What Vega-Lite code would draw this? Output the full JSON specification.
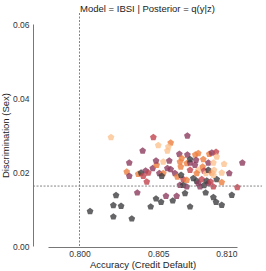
{
  "$schema": "https://vega.github.io/schema/vega-lite/v6.json",
  "width": 189,
  "height": 222,
  "autosize": {"type": "none"},
  "padding": {"left": 48, "top": 24, "right": 29, "bottom": 25},
  "config": {
    "view": {"stroke": null},
    "font": "Liberation Sans",
    "axis": {
      "grid": false,
      "ticks": false,
      "domainColor": "#777777",
      "domainWidth": 1,
      "labelFont": "Liberation Sans",
      "labelFontSize": 8.5,
      "labelColor": "#333333",
      "titleFont": "Liberation Sans",
      "titleFontSize": 9.5,
      "titleFontWeight": "normal",
      "titleColor": "#222222"
    }
  },
  "title": {
    "text": "Model = IBSI | Posterior = q(y|z)",
    "font": "Liberation Sans",
    "fontSize": 9.5,
    "fontWeight": "normal",
    "color": "#222222",
    "offset": 0,
    "dx": 5,
    "dy": 2
  },
  "layer": [
    {
      "data": {
        "values": [
          {"x": 0.80067, "y": 0.00937, "c": "dark"},
          {"x": 0.80215, "y": 0.00791, "c": "dark"},
          {"x": 0.80332, "y": 0.00737, "c": "dark"},
          {"x": 0.80215, "y": 0.01099, "c": "dark"},
          {"x": 0.80264, "y": 0.0108, "c": "dark"},
          {"x": 0.80452, "y": 0.01061, "c": "dark"},
          {"x": 0.80702, "y": 0.01061, "c": "dark"},
          {"x": 0.80232, "y": 0.01369, "c": "dark"},
          {"x": 0.80486, "y": 0.01277, "c": "dark"},
          {"x": 0.80518, "y": 0.01188, "c": "dark"},
          {"x": 0.80592, "y": 0.01223, "c": "dark"},
          {"x": 0.8067, "y": 0.01423, "c": "dark"},
          {"x": 0.80801, "y": 0.01439, "c": "dark"},
          {"x": 0.8085, "y": 0.01315, "c": "dark"},
          {"x": 0.80867, "y": 0.01188, "c": "dark"},
          {"x": 0.80903, "y": 0.01107, "c": "dark"},
          {"x": 0.80967, "y": 0.01377, "c": "dark"},
          {"x": 0.80367, "y": 0.01439, "c": "maroon"},
          {"x": 0.80549, "y": 0.0135, "c": "maroon"},
          {"x": 0.80617, "y": 0.0135, "c": "maroon"},
          {"x": 0.81002, "y": 0.01585, "c": "red"},
          {"x": 0.80638, "y": 0.01647, "c": "maroon"},
          {"x": 0.80659, "y": 0.01647, "c": "dark"},
          {"x": 0.80681, "y": 0.01601, "c": "maroon"},
          {"x": 0.80765, "y": 0.01601, "c": "maroon"},
          {"x": 0.80791, "y": 0.01639, "c": "dark"},
          {"x": 0.80818, "y": 0.01693, "c": "maroon"},
          {"x": 0.8085, "y": 0.01601, "c": "red"},
          {"x": 0.80659, "y": 0.01801, "c": "red"},
          {"x": 0.80681, "y": 0.01782, "c": "orange"},
          {"x": 0.80723, "y": 0.01828, "c": "dark"},
          {"x": 0.80744, "y": 0.01755, "c": "dark"},
          {"x": 0.80754, "y": 0.01693, "c": "maroon"},
          {"x": 0.80776, "y": 0.01801, "c": "red"},
          {"x": 0.80808, "y": 0.01763, "c": "dark"},
          {"x": 0.80833, "y": 0.01736, "c": "red"},
          {"x": 0.80871, "y": 0.01801, "c": "dark"},
          {"x": 0.80903, "y": 0.0172, "c": "orange"},
          {"x": 0.803, "y": 0.02006, "c": "orange"},
          {"x": 0.80316, "y": 0.0189, "c": "maroon"},
          {"x": 0.80373, "y": 0.01944, "c": "orange"},
          {"x": 0.80391, "y": 0.01979, "c": "dark"},
          {"x": 0.8042, "y": 0.02033, "c": "maroon"},
          {"x": 0.80437, "y": 0.01979, "c": "red"},
          {"x": 0.80405, "y": 0.0189, "c": "red"},
          {"x": 0.80427, "y": 0.01736, "c": "red"},
          {"x": 0.80465, "y": 0.02098, "c": "maroon"},
          {"x": 0.8049, "y": 0.02187, "c": "orange"},
          {"x": 0.80507, "y": 0.01963, "c": "maroon"},
          {"x": 0.80532, "y": 0.01963, "c": "orange"},
          {"x": 0.80522, "y": 0.0189, "c": "dark"},
          {"x": 0.80558, "y": 0.02098, "c": "maroon"},
          {"x": 0.80579, "y": 0.02071, "c": "maroon"},
          {"x": 0.80606, "y": 0.01963, "c": "maroon"},
          {"x": 0.80621, "y": 0.01871, "c": "orange"},
          {"x": 0.80645, "y": 0.01917, "c": "dark"},
          {"x": 0.80643, "y": 0.02141, "c": "orange"},
          {"x": 0.80681, "y": 0.02233, "c": "orange"},
          {"x": 0.80702, "y": 0.02249, "c": "maroon"},
          {"x": 0.80733, "y": 0.02187, "c": "maroon"},
          {"x": 0.80702, "y": 0.02052, "c": "red"},
          {"x": 0.80754, "y": 0.02052, "c": "peach"},
          {"x": 0.80744, "y": 0.01963, "c": "orange"},
          {"x": 0.80782, "y": 0.02141, "c": "orange"},
          {"x": 0.80791, "y": 0.02033, "c": "red"},
          {"x": 0.80803, "y": 0.01963, "c": "peach"},
          {"x": 0.80818, "y": 0.02052, "c": "dark"},
          {"x": 0.8084, "y": 0.01979, "c": "orange"},
          {"x": 0.80854, "y": 0.02052, "c": "peach"},
          {"x": 0.8085, "y": 0.01917, "c": "peach"},
          {"x": 0.80903, "y": 0.01979, "c": "peach"},
          {"x": 0.80951, "y": 0.01963, "c": "maroon"},
          {"x": 0.80316, "y": 0.02249, "c": "maroon"},
          {"x": 0.80486, "y": 0.02303, "c": "maroon"},
          {"x": 0.80532, "y": 0.02276, "c": "peach"},
          {"x": 0.8057, "y": 0.02303, "c": "maroon"},
          {"x": 0.80634, "y": 0.02484, "c": "maroon"},
          {"x": 0.80685, "y": 0.02465, "c": "maroon"},
          {"x": 0.80649, "y": 0.02368, "c": "orange"},
          {"x": 0.80638, "y": 0.02276, "c": "orange"},
          {"x": 0.80735, "y": 0.02465, "c": "orange"},
          {"x": 0.80754, "y": 0.02503, "c": "orange"},
          {"x": 0.80702, "y": 0.02341, "c": "dark"},
          {"x": 0.8074, "y": 0.02322, "c": "maroon"},
          {"x": 0.80786, "y": 0.02341, "c": "orange"},
          {"x": 0.80824, "y": 0.02484, "c": "orange"},
          {"x": 0.8084, "y": 0.02519, "c": "maroon"},
          {"x": 0.80867, "y": 0.02538, "c": "red"},
          {"x": 0.80871, "y": 0.02411, "c": "peach"},
          {"x": 0.80818, "y": 0.02249, "c": "maroon"},
          {"x": 0.8085, "y": 0.02249, "c": "peach"},
          {"x": 0.80918, "y": 0.02214, "c": "peach"},
          {"x": 0.81034, "y": 0.02249, "c": "maroon"},
          {"x": 0.80401, "y": 0.02573, "c": "maroon"},
          {"x": 0.805, "y": 0.02719, "c": "peach"},
          {"x": 0.80579, "y": 0.02789, "c": "orange"},
          {"x": 0.80564, "y": 0.02681, "c": "peach"},
          {"x": 0.80558, "y": 0.02573, "c": "peach"},
          {"x": 0.802, "y": 0.02935, "c": "peach"},
          {"x": 0.80469, "y": 0.02935, "c": "red"},
          {"x": 0.80685, "y": 0.02978, "c": "maroon"}
        ]
      },
      "mark": {
        "type": "point",
        "filled": true,
        "shape": "M0,-1L0.951,-0.309L0.588,0.809L-0.588,0.809L-0.951,-0.309Z",
        "size": 50,
        "opacity": 0.8
      },
      "encoding": {
        "x": {
          "field": "x",
          "type": "quantitative",
          "scale": {"domain": [0.798, 0.81], "nice": false, "zero": false},
          "axis": {
            "values": [0.8, 0.805, 0.81],
            "format": ".3f",
            "offset": 1,
            "labelPadding": 2,
            "title": "Accuracy (Credit Default)",
            "titlePadding": 2
          }
        },
        "y": {
          "field": "y",
          "type": "quantitative",
          "scale": {"domain": [0, 0.06], "nice": false, "zero": true},
          "axis": {
            "values": [0, 0.02, 0.04, 0.06],
            "format": ".2f",
            "offset": 15,
            "labelPadding": 4,
            "title": "Discrimination (Sex)",
            "titlePadding": 2
          }
        },
        "color": {
          "field": "c",
          "type": "nominal",
          "scale": {
            "domain": ["dark", "maroon", "red", "orange", "peach"],
            "range": ["#3f3d40", "#8c3b5e", "#c2434f", "#ee8040", "#fbc391"]
          },
          "legend": null
        }
      }
    },
    {
      "data": {"values": [{"x": 0.8, "y": 0, "y2": 0.06318}]},
      "mark": {"type": "rule", "strokeDash": [2, 1.5], "color": "#777777", "strokeWidth": 0.9},
      "encoding": {
        "x": {"field": "x", "type": "quantitative"},
        "y": {"field": "y", "type": "quantitative"},
        "y2": {"field": "y2"}
      }
    },
    {
      "data": {"values": [{"y": 0.0162, "x": 0.79705, "x2": 0.81159}]},
      "mark": {"type": "rule", "strokeDash": [2, 1.5], "color": "#777777", "strokeWidth": 0.9},
      "encoding": {
        "y": {"field": "y", "type": "quantitative"},
        "x": {"field": "x", "type": "quantitative"},
        "x2": {"field": "x2"}
      }
    }
  ]
}
